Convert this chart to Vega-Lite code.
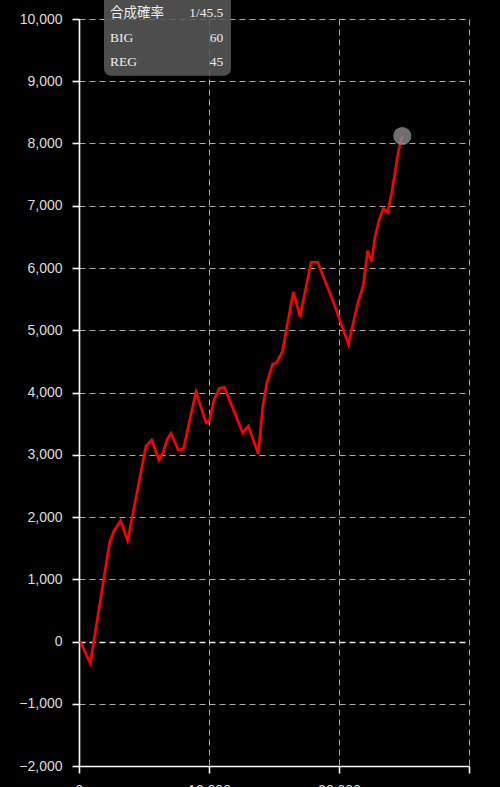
{
  "$schema": "https://vega.github.io/schema/vega-lite/v6.json",
  "autosize": {"type": "none"},
  "width": 390,
  "height": 747,
  "padding": {"left": 79, "top": 19, "right": 31, "bottom": 21},
  "background": "#000000",
  "datasets": {
    "series": [
      {"games": 100, "diff": 0},
      {"games": 870, "diff": -350},
      {"games": 2360, "diff": 1600},
      {"games": 2700, "diff": 1780},
      {"games": 3200, "diff": 1940},
      {"games": 3740, "diff": 1620},
      {"games": 5150, "diff": 3140},
      {"games": 5590, "diff": 3237},
      {"games": 6150, "diff": 2915},
      {"games": 6490, "diff": 3050},
      {"games": 6790, "diff": 3253},
      {"games": 7080, "diff": 3345},
      {"games": 7640, "diff": 3076},
      {"games": 8030, "diff": 3092},
      {"games": 9000, "diff": 4013},
      {"games": 9770, "diff": 3515},
      {"games": 10030, "diff": 3547},
      {"games": 10380, "diff": 3880},
      {"games": 10790, "diff": 4067},
      {"games": 11180, "diff": 4083},
      {"games": 12590, "diff": 3354},
      {"games": 13030, "diff": 3462},
      {"games": 13790, "diff": 3012},
      {"games": 14130, "diff": 3772},
      {"games": 14440, "diff": 4148},
      {"games": 14900, "diff": 4458},
      {"games": 15200, "diff": 4479},
      {"games": 15640, "diff": 4655},
      {"games": 16490, "diff": 5619},
      {"games": 17000, "diff": 5218},
      {"games": 17850, "diff": 6092},
      {"games": 18360, "diff": 6092},
      {"games": 19050, "diff": 5727},
      {"games": 19560, "diff": 5459},
      {"games": 20720, "diff": 4774},
      {"games": 21440, "diff": 5433},
      {"games": 21870, "diff": 5727},
      {"games": 22200, "diff": 6278},
      {"games": 22510, "diff": 6101},
      {"games": 22770, "diff": 6503},
      {"games": 23080, "diff": 6771},
      {"games": 23410, "diff": 6960},
      {"games": 23740, "diff": 6895},
      {"games": 24050, "diff": 7200},
      {"games": 24560, "diff": 7868},
      {"games": 24870, "diff": 8120}
    ],
    "legend": [
      {"label": "合成確率", "value": "1/45.5", "row": 10096},
      {"label": "BIG", "value": "60", "row": 9690},
      {"label": "REG", "value": "45", "row": 9304}
    ]
  },
  "layer": [
    {
      "data": {"name": "series"},
      "mark": {"type": "line", "color": "#ff0000", "strokeWidth": 2.6, "strokeJoin": "miter"},
      "encoding": {
        "x": {"field": "games", "type": "quantitative", "title": null,
              "scale": {"domain": [0, 30000], "nice": false}},
        "y": {"field": "diff", "type": "quantitative", "title": null,
              "scale": {"domain": [-2000, 10000], "nice": false},
              "axis": {
                "gridColor": {"condition": {"test": "datum.value === 0", "value": "#ffffff"}, "value": "#bbbbbb"},
                "gridWidth": {"condition": {"test": "datum.value === 0", "value": 1.6}, "value": 1}
              }}
      }
    },
    {
      "data": {"name": "series"},
      "transform": [{"filter": "datum.games == 24870"}],
      "mark": {"type": "circle", "size": 330, "color": "#8a8a8a", "opacity": 0.8},
      "encoding": {
        "x": {"field": "games", "type": "quantitative", "title": null},
        "y": {"field": "diff", "type": "quantitative", "title": null}
      }
    },
    {
      "data": {"values": [{}]},
      "mark": {"type": "rect", "fill": "#5a5a5a", "opacity": 0.85, "cornerRadius": 7},
      "encoding": {
        "x": {"datum": 1923, "type": "quantitative", "title": null},
        "x2": {"datum": 11690},
        "y": {"datum": 10420, "type": "quantitative", "title": null},
        "y2": {"datum": 9089}
      }
    },
    {
      "data": {"name": "legend"},
      "mark": {"type": "text", "align": "left", "baseline": "middle", "font": "Liberation Serif, Noto Sans CJK JP", "fontSize": 13.5, "color": "#eeeeee"},
      "encoding": {
        "x": {"datum": 2385, "type": "quantitative", "title": null},
        "y": {"field": "row", "type": "quantitative", "title": null},
        "text": {"field": "label"}
      }
    },
    {
      "data": {"name": "legend"},
      "mark": {"type": "text", "align": "right", "baseline": "middle", "font": "Liberation Serif", "fontSize": 13.5, "color": "#eeeeee"},
      "encoding": {
        "x": {"datum": 11100, "type": "quantitative", "title": null},
        "y": {"field": "row", "type": "quantitative", "title": null},
        "text": {"field": "value"}
      }
    }
  ],
  "config": {
    "view": {"stroke": null},
    "axis": {
      "labelFont": "Liberation Sans",
      "labelFontSize": 14,
      "labelColor": "#dddddd",
      "domainColor": "#ffffff",
      "domainWidth": 1.6,
      "tickColor": "#ffffff",
      "tickWidth": 1.6,
      "tickSize": 7,
      "labelPadding": 10,
      "gridColor": "#bbbbbb",
      "gridWidth": 1,
      "gridDash": [6, 4],
      "gridOpacity": 0.9
    },
    "axisY": {"tickCount": 12, "labelFlush": false},
    "axisX": {"tickCount": 3, "labelFlush": false, "labelExpr": "datum.value >= 30000 ? '' : datum.label"}
  }
}
